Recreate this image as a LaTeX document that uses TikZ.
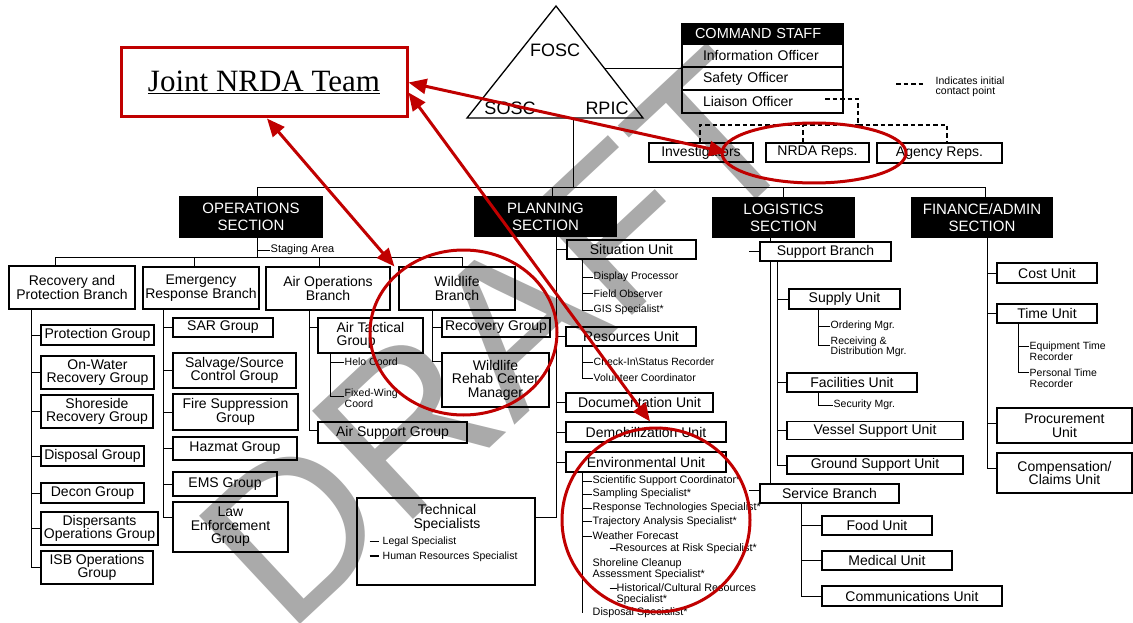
\documentclass[tikz,border=0pt]{standalone}
\usepackage{fontspec}
\setmainfont{Liberation Sans}
\newfontfamily\teamfont{Liberation Serif}
\usetikzlibrary{arrows.meta, calc}

\definecolor{nrdared}{RGB}{192,0,0}
\definecolor{draftgray}{RGB}{170,170,170}

\tikzset{
  sz/.style 2 args={minimum width=#1pt, minimum height=#2pt},
  box/.style={draw, line width=1.1pt, inner sep=0pt, align=center, font=\fontsize{14}{13.5}\selectfont},
  sect/.style={box, fill=black, text=white, font=\fontsize{15}{17}\selectfont},
  lbl/.style={inner sep=0.5pt, anchor=west, align=left, font=\fontsize{10.5}{10.5}\selectfont},
  envlbl/.style={lbl, font=\fontsize{10.8}{10.5}\selectfont},
  wire/.style={line width=1pt},
  initline/.style={line width=1.1pt, dash pattern=on 4.5pt off 3pt},
  redarrow/.style={draw=nrdared, line width=3pt, {Triangle[length=18pt,width=15pt]}-{Triangle[length=18pt,width=15pt]}},
  redring/.style={draw=nrdared, line width=3pt},
}

\begin{document}
\begin{tikzpicture}[x=1pt, y=-1pt]
	\useasboundingbox (0,0) rectangle (1133,623);

	% watermark
	\node[draftgray, rotate=43, anchor=base west, inner sep=0pt, font=\fontsize{215}{215}\selectfont] (draft) at (287,637) {DRAFT};

	% command triangle
	\coordinate (apex) at (556,6);
	\coordinate (tribl) at (467,118);
	\coordinate (tribr) at (643,118);
	\coordinate (trifoot) at (573,118);
	\draw [line width=1.3pt] (apex) -- (tribr) -- (tribl) -- cycle;
	\node [font=\fontsize{18}{18}\selectfont] (fosc) at (555,50) {FOSC};
	\node [font=\fontsize{18}{18}\selectfont] (sosc) at (510,108) {SOSC};
	\node [font=\fontsize{18}{18}\selectfont] (rpic) at (607,108) {RPIC};

	% joint team
	\node [draw=nrdared, line width=3pt, sz={286}{69}, inner sep=0pt, font=\teamfont\fontsize{31}{31}\selectfont] (team) at (264,82.5) {\underline{Joint NRDA Team}};

	% command staff
	\node [sect, sz={161}{20}, text width=135pt, align=left, font=\fontsize{14.5}{15}\selectfont] (cmdhdr) at (762.5,34) {COMMAND STAFF};
	\node [box, sz={161}{23}, text width=119pt, align=left] (info) at (762.5,55.5) {Information Officer};
	\node [box, sz={161}{23}, text width=119pt, align=left] (safety) at (762.5,78.5) {Safety Officer};
	\node [box, sz={161}{23}, text width=119pt, align=left] (liaison) at (762.5,101.5) {Liaison Officer};
	\draw [wire] ($(apex)!0.5625!(tribr)$) -- ([yshift=9.5pt]safety.west);

	% contact points
	\node [box, sz={104}{19}] (inv) at (701,152.5) {Investigators};
	\node [box, sz={103}{19}] (nrda) at (817.5,152.5) {NRDA Reps.};
	\node [box, sz={125}{20}] (agy) at (939.5,153) {Agency Reps.};
	\coordinate (lsn) at (825,99);
	\coordinate (dbus) at (858,125);
	\draw [initline] (lsn) -| (dbus);
	\draw [initline] ([xshift=-1pt]inv.north) |- (dbus);
	\draw [initline] (dbus) -| ([xshift=7.5pt]agy.north);
	\draw [initline] ([xshift=-14.5pt]nrda.north) -- ([xshift=-14.5pt]nrda.north |- dbus);
	\coordinate (legA) at (896,84);
	\coordinate (legB) at (925,84);
	\draw [initline] (legA) -- (legB);
	\node [lbl, font=\fontsize{10.5}{10}\selectfont] (legtxt) at (935,87) {Indicates initial\\contact point};

	% sections
	\node [sect, sz={142}{40}] (ops) at (251,217) {OPERATIONS\\SECTION};
	\node [sect, sz={141}{39}] (plan) at (545.5,216.5) {PLANNING\\SECTION};
	\node [sect, sz={141}{39}] (log) at (783.5,217.5) {LOGISTICS\\SECTION};
	\node [sect, sz={140}{39}] (fin) at (982,217.5) {FINANCE/ADMIN\\SECTION};
	\coordinate (busl) at (257,188);
	\draw [wire] (trifoot) -- (trifoot |- busl);
	\draw [wire] (busl) -| ([xshift=3pt]fin.north);
	\draw [wire] (busl) -- (busl |- ops.north);
	\draw [wire] (busl) -| ([xshift=6.5pt]plan.north);
	\draw [wire] (busl) -| (log.north);

	% operations
	\node [box, sz={126}{43}] (rpb) at (72,287.5) {Recovery and\\Protection Branch};
	\node [box, sz={116}{42}] (erb) at (201,288) {Emergency\\Response Branch};
	\node [box, sz={124}{43}] (aob) at (328,288.5) {Air Operations\\Branch};
	\node [box, sz={116}{43}] (wlb) at (457,288.5) {Wildlife\\Branch};
	\node [lbl, font=\fontsize{11}{11}\selectfont] (staging) at (270,250) {Staging Area};
	\coordinate (opsft) at (257,237);
	\coordinate (brl) at (55,257);
	\draw [wire] (opsft) -- (opsft |- brl);
	\draw [wire] (opsft |- staging.west) -- (staging.west);
	\draw [wire] (brl) -| ([xshift=5pt]wlb.north);
	\draw [wire] (brl) -- (brl |- rpb.north);
	\draw [wire] (brl) -| ([xshift=-7pt]erb.north);
	\draw [wire] (brl) -| ([xshift=-9pt]aob.north);

	% recovery and protection
	\node [box, sz={113}{20}] (prot) at (97.5,335) {Protection Group};
	\node [box, sz={113}{33}] (onw) at (97.5,372.5) {On-Water\\Recovery Group};
	\node [box, sz={112}{33}] (shr) at (97,411.5) {Shoreside\\Recovery Group};
	\node [box, sz={103}{20}] (disp) at (92.5,456) {Disposal Group};
	\node [box, sz={103}{20}] (decon) at (92.5,493) {Decon Group};
	\node [box, sz={117}{33}] (dspo) at (99.5,528.5) {Dispersants\\Operations Group};
	\node [box, sz={112}{33}] (isb) at (97,567.5) {ISB Operations\\Group};
	\coordinate (rpbsp) at (31,309);
	\foreach \g in {prot,onw,shr,disp,decon,dspo,isb}
		\draw [wire] (rpbsp) |- (\g.west);

	% emergency response
	\node [box, sz={100}{19}] (sar) at (223,327.5) {SAR Group};
	\node [box, sz={123}{35}] (salv) at (234.5,370.5) {Salvage/Source\\Control Group};
	\node [box, sz={125}{36}] (fire) at (235.5,412) {Fire Suppression\\Group};
	\node [box, sz={124}{23}] (haz) at (235,448.5) {Hazmat Group};
	\node [box, sz={104}{24}] (ems) at (225,484) {EMS Group};
	\node [box, sz={115}{50}] (law) at (230.5,527) {Law\\Enforcement\\Group};
	\coordinate (erbsp) at (163,309);
	\foreach \g in {sar,salv,fire,haz,ems}
		\draw [wire] (erbsp) |- (\g.west);
	\draw [wire] (erbsp) |- ([yshift=10pt]law.west);

	% air operations
	\node [box, sz={105}{35}, align=left] (atg) at (370.5,335.5) {Air Tactical\\Group};
	\node [box, sz={149}{21}] (asg) at (392.5,432.5) {Air Support Group};
	\node [lbl] (helo) at (344,362) {Helo Coord};
	\node [lbl] (fwc) at (344,398) {Fixed-Wing\\Coord};
	\coordinate (aobsp) at (309,310);
	\coordinate (atgsp) at (330,353);
	\draw [wire] (aobsp) |- ([yshift=8.5pt]atg.west);
	\draw [wire] (aobsp) |- ([yshift=2.5pt]asg.west);
	\draw [wire] (atgsp) |- (helo.west);
	\draw [wire] (atgsp) |- ([yshift=2pt]fwc.west);

	% wildlife
	\node [box, sz={108}{19}] (rcg) at (496,327.5) {Recovery Group};
	\node [box, sz={107}{54}] (wrc) at (495.5,380) {Wildlife\\Rehab Center\\Manager};
	\coordinate (wlbsp) at (432,310);
	\draw [wire] (wlbsp) |- (rcg.west);
	\draw [wire] (wlbsp) |- ([yshift=19pt]wrc.west);

	% technical specialists
	\node [box, sz={178}{87}] (tech) at (446,541.5) {};
	\node [font=\fontsize{14}{14}\selectfont, align=center] (techttl) at (447,517.5) {Technical\\Specialists};
	\node [lbl] (legal) at (369,542) {\rule[3pt]{9pt}{1pt}\hspace{4pt}Legal Specialist};
	\node [lbl] (hrs) at (369,557) {\rule[3pt]{9pt}{1.3pt}\hspace{4pt}Human Resources Specialist};

	% planning
	\node [box, sz={129}{19}] (sit) at (631.5,249.5) {Situation Unit};
	\node [box, sz={130}{19}] (res) at (631,336.5) {Resources Unit};
	\node [box, sz={147}{19}] (doc) at (639.5,402.5) {Documentation Unit};
	\node [box, sz={160}{20}] (demob) at (646,432) {Demobilization Unit};
	\node [box, sz={160}{20}] (env) at (646,462) {Environmental Unit};
	\coordinate (plsp) at (556,236);
	\foreach \u in {sit,res,doc,demob,env}
		\draw [wire] (plsp) |- (\u.west);
	\draw [wire] (plsp) |- ([yshift=24.5pt]tech.east);

	\node [lbl] (dproc) at (593,277) {Display Processor};
	\node [lbl] (fobs) at (593,293.5) {Field Observer};
	\node [lbl] (gis) at (593,310) {GIS Specialist*};
	\coordinate (sitsp) at (582,259);
	\foreach \i in {dproc,fobs,gis}
		\draw [wire] (sitsp) |- (\i.west);
	\node [lbl] (chk) at (593,362) {Check-In\textbackslash Status Recorder};
	\node [lbl] (vol) at (593,378) {Volunteer Coordinator};
	\coordinate (ressp) at (582,346);
	\foreach \i in {chk,vol}
		\draw [wire] (ressp) |- (\i.west);

	\node [envlbl] (ssc) at (592,481) {Scientific Support Coordinator*};
	\node [envlbl] (samp) at (592,494) {Sampling Specialist*};
	\node [envlbl] (rts) at (592,508) {Response Technologies Specialist*};
	\node [envlbl] (tas) at (592,521.5) {Trajectory Analysis Specialist*};
	\node [envlbl] (wfc) at (592,536) {Weather Forecast};
	\node [envlbl] (rar) at (609,549) {\rule[3pt]{6pt}{0.8pt}Resources at Risk Specialist*};
	\node [envlbl] (scl) at (592,569) {Shoreline Cleanup\\Assessment Specialist*};
	\node [envlbl] (hcr) at (609,594) {\rule[3pt]{7pt}{0.8pt}Historical/Cultural Resources\\\hspace*{7pt}Specialist*};
	\node [envlbl] (dsp) at (592,613) {Disposal Specialist*};
	\coordinate (envsp) at (582,472);
	\foreach \i in {ssc,samp,rts,tas,wfc}
		\draw [wire] (envsp) |- (\i.west);
	\draw [wire] (envsp) -- (envsp |- dsp.west);

	% logistics
	\node [box, sz={131}{19}] (sbr) at (825.5,251.5) {Support Branch};
	\node [box, sz={111}{20}] (sup) at (844.5,299) {Supply Unit};
	\node [box, sz={130}{19}] (fac) at (852,382.5) {Facilities Unit};
	\node [box, sz={176}{18}] (vsu) at (875,430.5) {Vessel Support Unit};
	\node [box, sz={176}{18}] (gsu) at (875,465) {Ground Support Unit};
	\node [box, sz={139}{19}] (svb) at (829.5,493.5) {Service Branch};
	\node [box, sz={110}{19}] (food) at (877,525.5) {Food Unit};
	\node [box, sz={130}{19}] (med) at (887,560.5) {Medical Unit};
	\node [box, sz={180}{20}] (comm) at (912,596) {Communications Unit};
	\node [lbl] (ord) at (830,326) {Ordering Mgr.};
	\node [lbl] (rcv) at (830,347) {Receiving \&\\Distribution Mgr.};
	\node [lbl] (secm) at (833,405) {Security Mgr.};
	\coordinate (logsp) at (770,237);
	\draw [wire] (logsp) -- (logsp |- sbr.north);
	\draw [wire] (logsp |- sbr.south) -- (logsp |- svb.north);
	\coordinate (sbrtk) at (749,251.5);
	\coordinate (svbtk) at (749,490);
	\draw [wire] (sbrtk) -- (sbr.west);
	\draw [wire] (svbtk) -- (svbtk -| svb.west);
	\coordinate (sbrsp) at (777,261);
	\foreach \u in {sup,fac,vsu,gsu}
		\draw [wire] (sbrsp) |- (\u.west);
	\coordinate (supsp) at (818,309);
	\draw [wire] (supsp) |- (ord.west);
	\draw [wire] (supsp) |- ([yshift=2pt]rcv.west);
	\coordinate (facsp) at (818,392);
	\draw [wire] (facsp) |- (secm.west);
	\coordinate (svbsp) at (801,503);
	\foreach \u in {food,med,comm}
		\draw [wire] (svbsp) |- (\u.west);

	% finance
	\node [box, sz={100}{20}] (cost) at (1047,273) {Cost Unit};
	\node [box, sz={100}{19}] (time) at (1047,313.5) {Time Unit};
	\node [box, sz={135}{35}] (proc) at (1064.5,425.5) {Procurement\\Unit};
	\node [box, sz={135}{40}] (comp) at (1064.5,473) {Compensation/\\Claims Unit};
	\node [lbl] (etr) at (1029,351) {Equipment Time\\Recorder};
	\node [lbl] (ptr) at (1029,378) {Personal Time\\Recorder};
	\coordinate (finsp) at (987,237);
	\draw [wire] (finsp) |- (cost.west);
	\draw [wire] (finsp) |- (time.west);
	\draw [wire] (finsp) |- ([yshift=2.5pt]proc.west);
	\draw [wire] (finsp) |- ([yshift=5pt]comp.west);
	\coordinate (timsp) at (1018,323);
	\draw [wire] (timsp) |- ([yshift=5pt]etr.west);
	\draw [wire] (timsp) |- ([yshift=6pt]ptr.west);

	% NRDA links
	\draw [redarrow] (team.east) -- ([xshift=26pt]inv.center);
	\draw [redarrow] ([yshift=-10pt]team.east) -- ([xshift=4pt]demob.north);
	\draw [redarrow] ([xshift=3pt]team.south) -- ([xshift=-4pt]wlb.north west);
	\draw [redring] (814,153) ellipse [x radius=92, y radius=30];
	\draw [redring] (463.5,332.5) ellipse [x radius=93.5, y radius=82.5];
	\draw [redring] (656,520) ellipse [x radius=94, y radius=92];
\end{tikzpicture}
\end{document}
